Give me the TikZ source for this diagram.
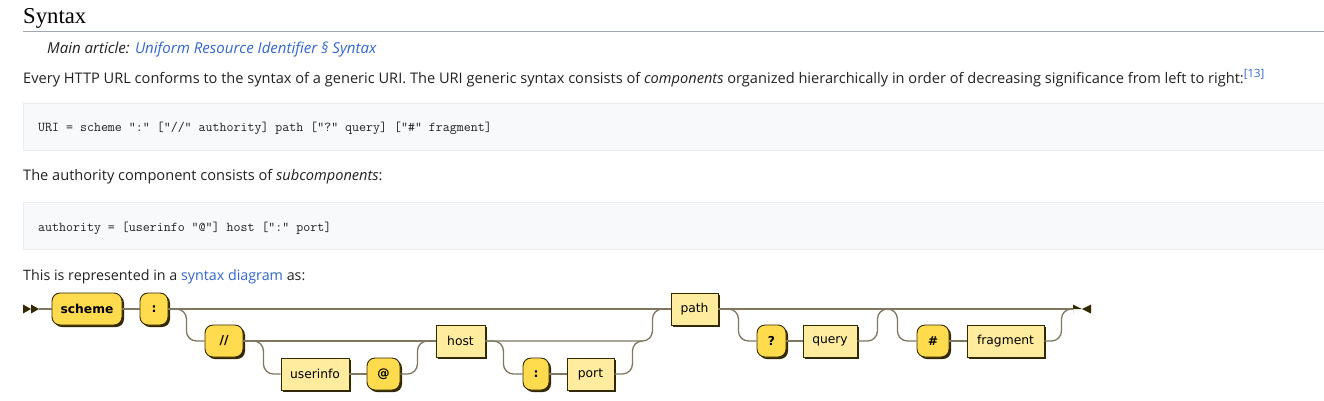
\documentclass[tikz,border=0pt]{standalone}
\usepackage{fontspec}
\usepackage{xcolor}
\setmainfont{Open Sans}
\newfontfamily\headfont{Liberation Serif}
\newfontfamily\rrfont{DejaVu Sans}
\setmonofont{Latin Modern Mono}
\usetikzlibrary{arrows.meta}

\definecolor{ink}{HTML}{202122}
\definecolor{link}{HTML}{3366CC}
\definecolor{rulec}{HTML}{A2A9B1}
\definecolor{codebg}{HTML}{F8F9FA}
\definecolor{codeedge}{HTML}{EAECF0}
\definecolor{termfill}{HTML}{FFDB4D}
\definecolor{ntfill}{HTML}{FFEC9E}
\definecolor{rrdark}{HTML}{332900}
\definecolor{railc}{HTML}{807761}

\tikzset{
  rail/.style={line width=1.3pt, draw=railc, rounded corners=10pt},
  box/.style={draw=rrdark, line width=0.9pt, minimum height=32pt, inner sep=0pt, text=black,
    font=\rrfont\fontsize{12.3}{14}\selectfont,
    preaction={fill=rrdark, transform canvas={xshift=2pt,yshift=-2pt}}},
  term/.style={box, fill=termfill, rounded corners=8pt, font=\rrfont\bfseries\fontsize{12.3}{14}\selectfont},
  nonterm/.style={box, fill=ntfill},
  body/.style={anchor=base west, inner sep=0pt, text=ink, font=\fontsize{14.6}{17}\selectfont},
  code/.style={anchor=base west, inner sep=0pt, text=ink, font=\ttfamily\fontsize{13.55}{16}\selectfont},
  tip/.style={fill=rrdark}
}

\begin{document}
\begin{tikzpicture}[x=1pt, y=-1pt]
  \useasboundingbox (0,0) rectangle (1324,400);

  % text part
  \node[anchor=base west, inner sep=0pt, font=\headfont\fontsize{22.7}{26}\selectfont] (head) at (23,23.5) {Syntax};
  \draw[rulec, line width=1pt] (23,31.5) -- (1324,31.5);
  \node[body, font=\fontsize{15.05}{17}\selectfont] (hat) at (47,53.3) {\itshape Main article: \textcolor{link}{Uniform Resource Identifier § Syntax}};
  \node[body] (intro) at (23,83.3) {Every HTTP URL conforms to the syntax of a generic URI. The URI generic syntax consists of \textit{components} organized hierarchically in order of decreasing significance from left to right:\textcolor{link}{\raisebox{6pt}{\fontsize{11.4}{12}\selectfont[13]}}};
  \draw[fill=codebg, draw=codeedge, line width=1pt] (23,103) rectangle (1330,150);
  \node[code] (uri) at (38,131.7) {URI = scheme ":" ["//" authority] path ["?" query] ["\#" fragment]};
  \node[body] (auth) at (23,180.7) {The authority component consists of \textit{subcomponents}:};
  \draw[fill=codebg, draw=codeedge, line width=1pt] (23,202) rectangle (1330,249);
  \node[code] (authcode) at (38,231) {authority = [userinfo "@"] host [":" port]};
  \node[body, font=\fontsize{14.3}{17}\selectfont] (repr) at (23,280) {This is represented in a \textcolor{link}{syntax diagram} as:};

  % railroad
  \coordinate (beg) at (39,309);
  \coordinate (fin) at (1073,309);
  \fill[tip] (beg) -- ++(-8,-4.5) -- ++(0,9) -- cycle;
  \fill[tip] (beg) ++(-8,0) -- ++(-8,-4.5) -- ++(0,9) -- cycle;
  \fill[tip] (fin) -- ++(9,0) -- ++(-9,-4.5) -- ++(0,9) -- cycle;
  \fill[tip] (fin) ++(9,0) -- ++(9,-4.5) -- ++(0,9) -- cycle;

  \node[term, minimum width=70pt] (scheme) at (87,309) {scheme};
  \node[term, minimum width=28pt] (col1) at (154,309) {:};
  \node[term, minimum width=38pt] (dslash) at (224,341) {//};
  \node[nonterm, minimum width=68pt] (userinfo) at (315,374) {userinfo};
  \node[term, minimum width=33pt] (at) at (383.5,374) {@};
  \node[nonterm, minimum width=49pt] (host) at (460.5,341) {host};
  \node[term, minimum width=26pt] (col2) at (536,374) {:};
  \node[nonterm, minimum width=47pt] (port) at (590.5,374) {port};
  \node[nonterm, minimum width=47pt] (path) at (694.5,309) {path};
  \node[term, minimum width=29pt] (qmark) at (771.5,341) {?};
  \node[nonterm, minimum width=54pt] (query) at (830,341) {query};
  \node[term, minimum width=32pt] (hash) at (933,341) {\#};
  \node[nonterm, minimum width=77pt] (fragment) at (1005.5,341) {fragment};

  \draw[rail] (beg) -- (scheme);
  \draw[rail] (scheme) -- (col1);
  \draw[rail] (col1.east) -- (path.west);
  \draw[rail] (col1.east) -- ++(18,0) |- (dslash.west);
  \draw[rail] (dslash.east) -- (host.west);
  \draw[rail] (dslash.east) -- ++(20,0) |- (userinfo.west);
  \draw[rail] (userinfo) -- (at);
  \draw[rail] (at.east) -- ++(17,0) |- (host.west);
  \draw[rail] (host.east) -- ++(167,0) |- (path.west);
  \draw[rail] (host.east) -- ++(18,0) |- (col2.west);
  \draw[rail] (col2) -- (port);
  \draw[rail] (port.east) -- ++(18,0) |- ++(10,-33);
  \draw[rail] (path.east) -- (fin);
  \draw[rail] (path.east) -- ++(20,0) |- (qmark.west);
  \draw[rail] (qmark) -- (query);
  \draw[rail] (query.east) -- ++(20,0) -- ++(0,-32) -- ++(20,0) -- ++(0,32) -- (hash.west);
  \draw[rail] (hash) -- (fragment);
  \draw[rail] (fragment.east) -- ++(17,0) |- (fin);

\end{tikzpicture}
\end{document}
